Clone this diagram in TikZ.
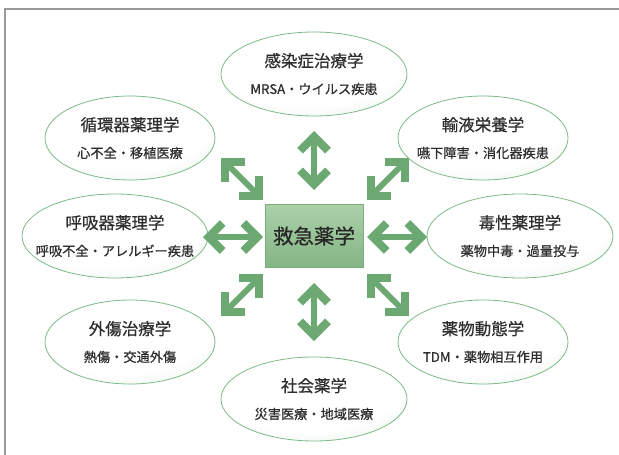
\documentclass[tikz,border=0pt]{standalone}
\usepackage{fontspec}
\setmainfont{Noto Sans CJK JP}
\newfontfamily\medf{Noto Sans CJK JP}[FakeBold=0.6]
\usetikzlibrary{arrows.meta,shapes.geometric}
\definecolor{arrg}{HTML}{6BA872}
\definecolor{ellb}{HTML}{7DBA88}
\definecolor{ellg}{HTML}{C6E2CB}
\definecolor{boxb}{HTML}{79AE7A}
\definecolor{boxt}{HTML}{ABD0AA}
\definecolor{boxd}{HTML}{84B584}
\definecolor{txt}{HTML}{2E2E2E}
\definecolor{frm}{HTML}{9A9A9A}
\pgfdeclareradialshading{ellshade}{\pgfpoint{-4bp}{10bp}}{color(0bp)=(white); color(26bp)=(white); color(58bp)=(ellg); color(85bp)=(ellg)}
\tikzset{
  topic/.style={ellipse, draw=ellb, line width=0.8pt, shading=ellshade,
    minimum width=186pt, minimum height=84pt, inner sep=0pt},
  topictext/.style={align=center, text=txt, inner sep=0pt,
    font=\medf\fontsize{16.5}{27}\selectfont},
  hub/.style={rectangle, draw=boxb, line width=0.8pt, top color=boxt, bottom color=boxd,
    minimum width=98pt, minimum height=63pt, inner sep=0pt, text=black!85,
    font=\medf\fontsize{20.5}{24}\selectfont},
  dblarr/.style={draw=arrg, line width=6pt,
    {Straight Barb[length=14pt, width=28pt, line width=8pt]}-{Straight Barb[length=14pt, width=28pt, line width=8pt]}},
  frame/.style={draw=frm, line width=1.5pt}
}
\newcommand{\subt}[1]{{\fontsize{13.2}{27}\selectfont #1}}
\begin{document}
\begin{tikzpicture}[x=1pt, y=-1pt]
\useasboundingbox (0,0) rectangle (619,455);
\coordinate (f1) at (5,460);
\coordinate (f2) at (5,9);
\coordinate (f3) at (625,9);
\draw[frame] (f1) -- (f2) -- (f3);

\node[hub] (c) at (314,236) {救急薬学};

\node[topic, label={[topictext]center:感染症治療学\\\subt{MRSA・ウイルス疾患}}] (t1) at (314,74) {};
\node[topic, minimum width=170pt, label={[topictext]center:循環器薬理学\\\subt{心不全・移植医療}}] (t2) at (130,138) {};
\node[topic, minimum width=170pt, label={[topictext]center:輸液栄養学\\\subt{嚥下障害・消化器疾患}}] (t3) at (483,138) {};
\node[topic, label={[topictext]center:呼吸器薬理学\\\subt{呼吸不全・アレルギー疾患}}] (t4) at (115,236) {};
\node[topic, label={[topictext]center:毒性薬理学\\\subt{薬物中毒・過量投与}}] (t5) at (520,236) {};
\node[topic, minimum width=170pt, label={[topictext]center:外傷治療学\\\subt{熱傷・交通外傷}}] (t6) at (130,342) {};
\node[topic, minimum width=170pt, label={[topictext]center:薬物動態学\\\subt{TDM・薬物相互作用}}] (t7) at (483,342) {};
\node[topic, label={[topictext]center:社会薬学\\\subt{災害医療・地域医療}}] (t8) at (314,399) {};

\coordinate (n1) at (314,131); \coordinate (n2) at (314,190);
\coordinate (s1) at (314,283); \coordinate (s2) at (314,341);
\coordinate (w1) at (203,237); \coordinate (w2) at (263,237);
\coordinate (e1) at (367,237); \coordinate (e2) at (427,237);
\coordinate (nw1) at (221,158); \coordinate (nw2) at (263,200);
\coordinate (ne1) at (409,158); \coordinate (ne2) at (367,200);
\coordinate (sw1) at (263,274); \coordinate (sw2) at (221,316);
\coordinate (se1) at (367,274); \coordinate (se2) at (409,316);

\draw[dblarr] (n1) -- (n2);
\draw[dblarr] (s1) -- (s2);
\draw[dblarr] (w1) -- (w2);
\draw[dblarr] (e1) -- (e2);
\draw[dblarr] (nw1) -- (nw2);
\draw[dblarr] (ne1) -- (ne2);
\draw[dblarr] (sw1) -- (sw2);
\draw[dblarr] (se1) -- (se2);
\end{tikzpicture}
\end{document}
